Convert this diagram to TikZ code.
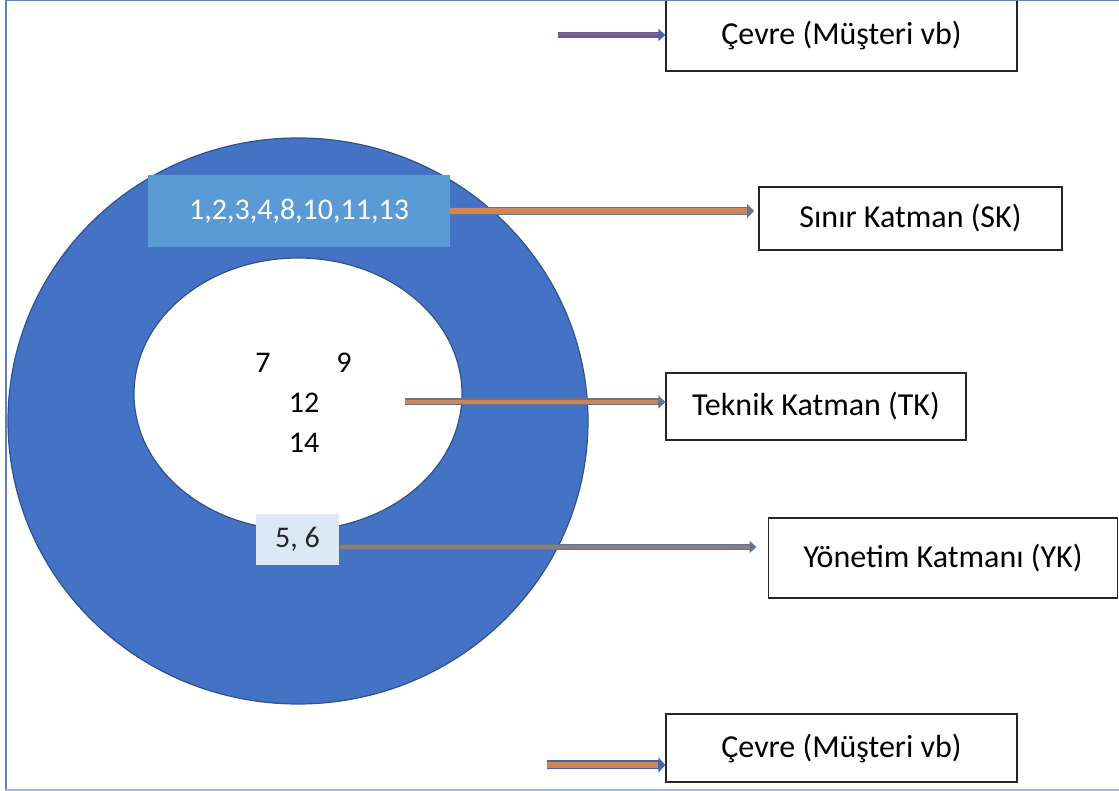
\documentclass[tikz,border=0pt]{standalone}
\usepackage{fontspec}
\setmainfont{Carlito}
\usepackage{xcolor}
\usetikzlibrary{arrows.meta}

\definecolor{ringblue}{HTML}{4472C4}
\definecolor{ringedge}{HTML}{2F528F}
\definecolor{skblue}{HTML}{5B9BD5}
\definecolor{ykpale}{HTML}{DCE8F5}
\definecolor{framebl}{HTML}{5A84BA}
\definecolor{framelt}{HTML}{9DBADD}
\definecolor{arrorange}{HTML}{CC8658}
\definecolor{arredge}{HTML}{66758F}
\definecolor{arrgrey}{HTML}{8A7E7A}
\definecolor{arrblue}{HTML}{4A63A8}
\definecolor{arrred}{HTML}{B4505C}

\tikzset{
  txt/.style={font=\fontsize{30}{35}\selectfont, inner sep=0pt},
  labelbox/.style 2 args={txt, font=\fontsize{32}{38}\selectfont, draw=black!85,
    line width=1.3pt, fill=white, minimum width=#1, minimum height=#2},
  numbox/.style n args={3}{txt, fill=#1, minimum width=#2, minimum height=#3},
  blockarrow/.style n args={4}{draw=#1, line width=#3,
    -{Triangle[length=7pt 0 0, width=#3+6pt]},
    postaction={draw=#2, line width=#4, -, shorten >=7pt}}
}

\begin{document}
\begin{tikzpicture}[x=1pt, y=1pt]
    \useasboundingbox (0,0) rectangle (1119,791);

    % Rings
    \fill[ringblue, draw=ringedge, line width=1.2pt] (298,370) ellipse [x radius=290, y radius=283];
    \fill[white, draw=ringedge, line width=1.2pt] (298,397) ellipse [x radius=164, y radius=136];

    % Define nodes
    \node[numbox={skblue}{302pt}{72pt}, text=white] (sknum) at (299,580) {1,2,3,4,8,10,11,13};
    \node[numbox={ykpale}{83pt}{51pt}, text=black!85] (yknum) at (297.5,251.5) {5, 6};
    \node[txt] (n7) at (263,428) {7};
    \node[txt] (n9) at (344,428) {9};
    \node[txt] (n12) at (304,388) {12};
    \node[txt] (n14) at (304,348) {14};

    \node[labelbox={351pt}{71pt}] (envtop) at (841.5,755.5) {Çevre (Müşteri vb)};
    \node[labelbox={303pt}{63pt}, outer sep=5pt] (sk) at (910.5,572.5) {Sınır Katman (SK)};
    \node[labelbox={300pt}{67pt}] (tk) at (816,384.5) {Teknik Katman (TK)};
    \node[labelbox={349pt}{80pt}, outer sep=12pt] (yk) at (943,233) {Yönetim Katmanı (YK)};
    \node[labelbox={351pt}{68pt}] (envbot) at (841.5,43) {Çevre (Müşteri vb)};

    \coordinate (envfrom) at (558,756);
    \coordinate (tkfrom) at (405,389);
    \coordinate (ykfrom) at (340,244);
    \coordinate (envfrom2) at (547,26);

    % Connect the nodes
    \draw[blockarrow={arrblue}{arrred}{6pt}{3pt}] (envfrom) -- (envfrom -| envtop.west);
    \draw[blockarrow={arredge}{arrorange}{8pt}{5.4pt}] (sknum.east) -- (sknum.east -| sk.west);
    \draw[blockarrow={arredge}{arrorange}{7pt}{4.6pt}] (tkfrom) -- (tkfrom -| tk.west);
    \draw[blockarrow={arredge}{arrgrey}{6pt}{3.6pt}] (ykfrom) -- (ykfrom -| yk.west);
    \draw[blockarrow={arrblue}{arrorange}{9pt}{6pt}] (envfrom2) -- (envfrom2 -| envbot.west);

    % Frame
    \draw[framebl, line width=2pt] (5.7,0) -- (5.7,791);
    \draw[framebl, line width=1.4pt] (5,790.3) -- (1119,790.3);
    \draw[framelt, line width=2pt] (5,1) -- (1119,1);

  \end{tikzpicture}
\end{document}
